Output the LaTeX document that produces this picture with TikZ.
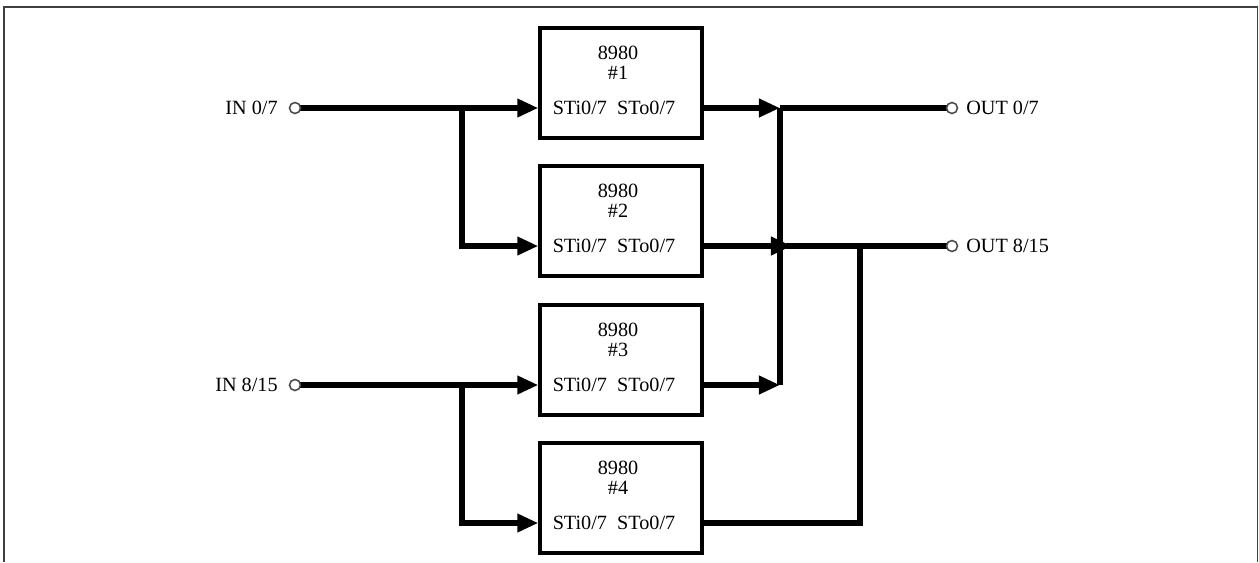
\documentclass[tikz,border=0pt]{standalone}
\usepackage{fontspec}
\setmainfont{Liberation Serif}
\usetikzlibrary{arrows.meta}
\tikzset{
  chip/.style={draw, line width=1.9pt, minimum width=3.24cm, minimum height=2.2cm, inner sep=0},
  bus/.style={line width=3pt},
  feed/.style={bus, -{Triangle[length=12pt, width=10pt]}},
  pin/.style={circle, draw=black!70, line width=0.9pt, fill=white, inner sep=0, minimum size=0.22cm},
  lbl/.style={font=\fontsize{11.5}{11.5}\selectfont, inner sep=0}
}
\newcommand{\chipBox}[2]{ \node[chip] (chip#1) at (621,#2-25) {};
  \node[lbl, align=center] (chip#1name) at (618,#2-45) {8980\\\##1};
  \node[lbl] (chip#1port) at (614,#2) {STi0/7\ \ STo0/7}; }

\begin{document}
\begin{tikzpicture}[x=0.02cm, y=-0.02cm]
  \useasboundingbox (0,0) rectangle (1259,562);
  \draw[black!75, line width=1.1pt] (4,562) -- (4,7) -- (1257.5,7) -- (1257.5,562);

  \chipBox{1}{108}
  \chipBox{2}{246}
  \chipBox{3}{385}
  \chipBox{4}{523}

  % inputs
  \node[lbl, anchor=east] (in0label) at (278,108) {IN 0/7};
  \node[lbl, anchor=east] (in1label) at (278,385) {IN 8/15};
  \coordinate (split0) at (462,108);
  \coordinate (split1) at (462,385);
  \draw[feed] (295,108) -- (chip1.west |- chip1port);
  \draw[feed] (split0) |- (chip2.west |- chip2port);
  \draw[feed] (295,385) -- (chip3.west |- chip3port);
  \draw[feed] (split1) |- (chip4.west |- chip4port);
  \node[pin] (in0) at (295,108) {};
  \node[pin] (in1) at (295,385) {};

  % outputs
  \node[lbl, anchor=west] (out0label) at (966,108) {OUT 0/7};
  \node[lbl, anchor=west] (out1label) at (966,246) {OUT 8/15};
  \coordinate (busA) at (780,108);
  \coordinate (busB) at (860,246);
  \coordinate (merge) at (792,246);
  \draw[bus] (busA) -- (busA |- chip3port);
  \draw[feed] (chip1.east |- chip1port) -- (busA);
  \draw[feed] (chip3.east |- chip3port) -- (busA |- chip3port);
  \draw[bus] (786,246) -- (952,246);
  \draw[feed] (chip2.east |- chip2port) -- (merge);
  \draw[bus] (chip4.east |- chip4port) -| (busB);
  \draw[bus] (busA) -- (952,108);
  \node[pin] (out0) at (952,108) {};
  \node[pin] (out1) at (952,246) {};
\end{tikzpicture}
\end{document}
